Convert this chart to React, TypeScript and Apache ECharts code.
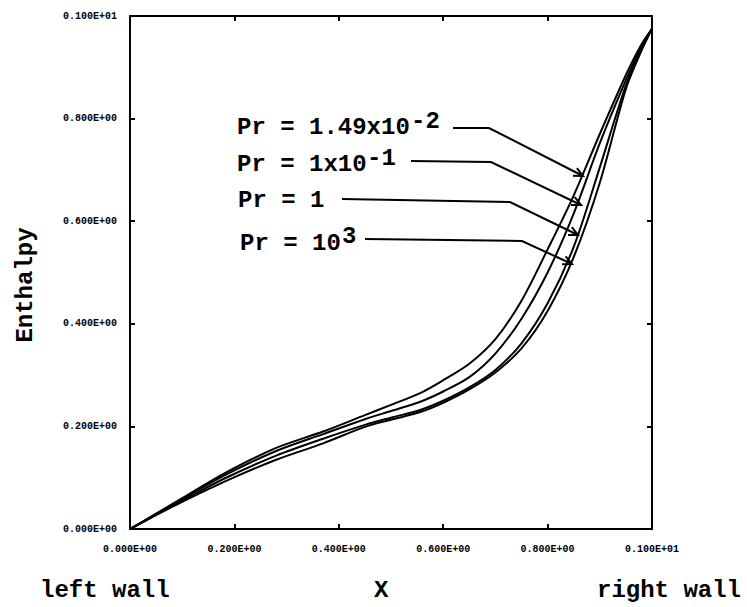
import React, { useEffect, useRef } from "react";
import * as echarts from "echarts";

// Shared x positions (fraction across the cavity, left wall = 0, right wall = 1)
const xPositions = [0, 0.05, 0.1, 0.18, 0.28, 0.37, 0.45, 0.5, 0.556, 0.6, 0.65, 0.7, 0.75, 0.8, 0.85, 0.9, 0.95, 0.98, 1];

// Enthalpy profiles for each Prandtl number
const prLow = [0, 0.03, 0.06, 0.108, 0.158, 0.19, 0.222, 0.242, 0.265, 0.29, 0.322, 0.37, 0.445, 0.545, 0.65, 0.77, 0.885, 0.945, 0.975]; // Pr = 1.49e-2
const prTenth = [0, 0.029, 0.058, 0.104, 0.152, 0.185, 0.214, 0.23, 0.248, 0.268, 0.296, 0.342, 0.41, 0.5, 0.615, 0.752, 0.875, 0.94, 0.975]; // Pr = 1e-1
const prOne = [0, 0.028, 0.055, 0.098, 0.143, 0.176, 0.203, 0.217, 0.232, 0.25, 0.276, 0.31, 0.362, 0.44, 0.55, 0.705, 0.865, 0.935, 0.975]; // Pr = 1
const prThousand = [0, 0.027, 0.053, 0.092, 0.135, 0.167, 0.199, 0.213, 0.228, 0.246, 0.272, 0.305, 0.352, 0.425, 0.53, 0.675, 0.858, 0.933, 0.975]; // Pr = 1e3

const seriesNames = ["Pr = 1.49x10^-2", "Pr = 1x10^-1", "Pr = 1", "Pr = 10^3"];
const seriesValues = [prLow, prTenth, prOne, prThousand];

const xTickLabels = ["0.000E+00", "0.200E+00", "0.400E+00", "0.600E+00", "0.800E+00", "0.100E+01"];
const yTickLabels = ["0.000E+00", "0.200E+00", "0.400E+00", "0.600E+00", "0.800E+00", "0.100E+01"];

const MONO = "Liberation Mono";

function txt(text: string, x: number, y: number, extra: any = {}) {
  const align = extra.align || "left";
  const { align: _a, ...rest } = extra;
  return {
    type: "text",
    x,
    y,
    ...rest,
    style: {
      text,
      fontFamily: MONO,
      fontSize: 24,
      fontWeight: "bold",
      fill: "#000",
      align,
      verticalAlign: "middle",
      textAlign: align,
      textVerticalAlign: "middle",
    },
  };
}

function arrow(points: number[][]) {
  const tip = points[points.length - 1];
  const from = points[points.length - 2];
  const dx = tip[0] - from[0];
  const dy = tip[1] - from[1];
  const d = Math.hypot(dx, dy);
  const ux = dx / d;
  const uy = dy / d;
  const len = 10;
  const rot = (a: number) => [
    tip[0] - len * (ux * Math.cos(a) - uy * Math.sin(a)),
    tip[1] - len * (ux * Math.sin(a) + uy * Math.cos(a)),
  ];
  return [
    { type: "polyline", shape: { points }, style: { stroke: "#000", lineWidth: 2, fill: null } },
    { type: "polyline", shape: { points: [rot(0.45), tip, rot(-0.45)] }, style: { stroke: "#000", lineWidth: 2, fill: null } },
  ];
}

export default function App() {
  const ref = useRef<HTMLDivElement>(null);

  useEffect(() => {
    if (!ref.current) return;
    const chart = echarts.init(ref.current, null, { renderer: "svg" });

    const axisCommon = {
      type: "value",
      min: 0,
      max: 1,
      interval: 0.2,
      splitLine: { show: false },
      axisLine: { show: true, onZero: false, lineStyle: { color: "#000", width: 2 } },
      axisTick: { show: true, inside: true, length: 5, lineStyle: { color: "#000", width: 2 } },
    };

    const tickLabelStyle = {
      show: true,
      color: "#000",
      fontFamily: MONO,
      fontWeight: "bold",
      fontSize: 10,
    };

    const graphic: any[] = [
      txt("Pr = 1.49x10", 237, 127),
      txt("-2", 411, 121),
      txt("Pr = 1x10", 237, 164),
      txt("-1", 367, 158),
      txt("Pr = 1", 238, 200),
      txt("Pr = 10", 240, 243),
      txt("3", 342, 236),
      ...arrow([[453, 128], [489, 128], [583, 176]]),
      ...arrow([[411, 161], [491, 162], [581, 205]]),
      ...arrow([[342, 199], [510, 202], [578, 235]]),
      ...arrow([[365, 239], [522, 241], [572, 264]]),
      txt("left wall", 40, 590),
      txt("X", 374, 590),
      txt("right wall", 597, 590),
      txt("Enthalpy", 25, 285, { rotation: Math.PI / 2, align: "center" }),
    ];

    chart.setOption({
      animation: false,
      backgroundColor: "#fff",
      grid: { left: 130, right: 95, top: 16, bottom: 78 },
      xAxis: [
        {
          ...axisCommon,
          position: "bottom",
          axisLabel: {
            ...tickLabelStyle,
            margin: 15,
            formatter: (v: number) => xTickLabels[Math.round(v / 0.2)],
          },
        },
        { ...axisCommon, position: "top", axisLabel: { show: false } },
      ],
      yAxis: [
        {
          ...axisCommon,
          position: "left",
          axisLabel: {
            ...tickLabelStyle,
            margin: 13,
            formatter: (v: number) => yTickLabels[Math.round(v / 0.2)],
          },
        },
        { ...axisCommon, position: "right", axisLabel: { show: false } },
      ],
      series: seriesValues.map((vals, i) => ({
        name: seriesNames[i],
        type: "line",
        xAxisIndex: 0,
        yAxisIndex: 0,
        data: xPositions.map((x, j) => [x, vals[j]]),
        showSymbol: false,
        symbol: "none",
        smooth: 0.3,
        lineStyle: { color: "#000", width: 2 },
        z: 3,
      })),
      graphic,
    });

    return () => chart.dispose();
  }, []);

  return (
    <div
      ref={ref}
      style={{ position: "fixed", left: 0, top: 0, width: 747, height: 607, background: "#fff" }}
    />
  );
}
